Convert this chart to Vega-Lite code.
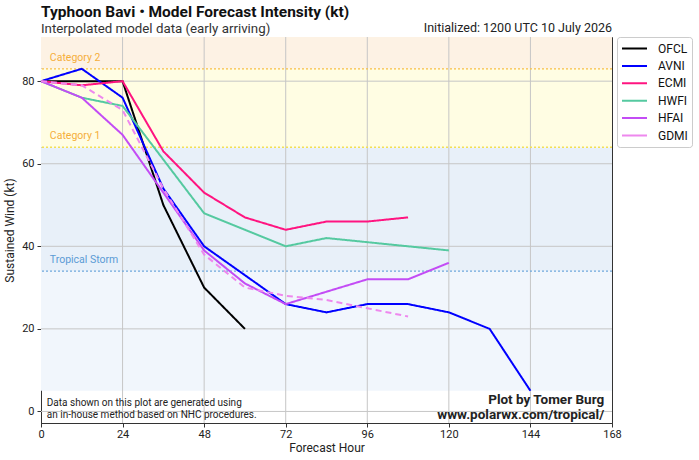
{
  "$schema": "https://vega.github.io/schema/vega-lite/v6.json",
  "width": 571,
  "height": 386,
  "autosize": {"type": "none"},
  "padding": {"left": 41, "top": 37, "right": 87, "bottom": 37},
  "background": "white",
  "config": {
    "font": "Roboto",
    "view": {"stroke": "#333", "strokeWidth": 1},
    "axis": {
      "labelFont": "Roboto",
      "titleFont": "Roboto",
      "labelFontSize": 11,
      "titleFontSize": 12,
      "titleFontWeight": "normal",
      "labelColor": "#222",
      "titleColor": "#222",
      "domainColor": "#333",
      "tickColor": "#333",
      "tickSize": 4,
      "labelFlush": false,
      "grid": false
    },
    "legend": {
      "orient": "none",
      "legendX": 576,
      "legendY": 0,
      "fillColor": "white",
      "strokeColor": "#cccccc",
      "cornerRadius": 3,
      "padding": 4,
      "symbolType": "stroke",
      "symbolSize": 625,
      "symbolStrokeWidth": 2,
      "clipHeight": 15,
      "labelFont": "Roboto",
      "labelFontSize": 12,
      "labelColor": "#111",
      "labelOffset": 10,
      "rowPadding": 2.4
    }
  },
  "title": {
    "text": "Typhoon Bavi • Model Forecast Intensity (kt)",
    "subtitle": "Interpolated model data (early arriving)",
    "anchor": "start",
    "frame": "group",
    "font": "Roboto",
    "fontSize": 15.5,
    "fontWeight": "bold",
    "color": "#111",
    "subtitleFont": "Roboto",
    "subtitleFontSize": 13.3,
    "subtitleColor": "#333",
    "subtitlePadding": 2,
    "offset": -13.5
  },
  "datasets": {
    "zones": [
      {"zone": "TD", "lo": 5, "hi": 34},
      {"zone": "TS", "lo": 34, "hi": 64},
      {"zone": "C1", "lo": 64, "hi": 83},
      {"zone": "C2", "lo": 83, "hi": 90.7}
    ],
    "thresholds": [
      {"zone": "TS", "kt": 34, "label": "Tropical Storm"},
      {"zone": "C1", "kt": 64, "label": "Category 1"},
      {"zone": "C2", "kt": 83, "label": "Category 2"}
    ],
    "hours": [{"h": 24}, {"h": 48}, {"h": 72}, {"h": 96}, {"h": 120}, {"h": 144}],
    "winds": [{"w": 0}, {"w": 20}, {"w": 40}, {"w": 60}, {"w": 80}],
    "tracks": [
      {"model": "OFCL", "hour": 0, "wind": 80},
      {"model": "OFCL", "hour": 12, "wind": 80},
      {"model": "OFCL", "hour": 24, "wind": 80},
      {"model": "OFCL", "hour": 36, "wind": 50},
      {"model": "OFCL", "hour": 48, "wind": 30},
      {"model": "OFCL", "hour": 60, "wind": 20},
      {"model": "AVNI", "hour": 0, "wind": 80},
      {"model": "AVNI", "hour": 12, "wind": 83},
      {"model": "AVNI", "hour": 24, "wind": 76},
      {"model": "AVNI", "hour": 36, "wind": 54},
      {"model": "AVNI", "hour": 48, "wind": 40},
      {"model": "AVNI", "hour": 60, "wind": 33},
      {"model": "AVNI", "hour": 72, "wind": 26},
      {"model": "AVNI", "hour": 84, "wind": 24},
      {"model": "AVNI", "hour": 96, "wind": 26},
      {"model": "AVNI", "hour": 108, "wind": 26},
      {"model": "AVNI", "hour": 120, "wind": 24},
      {"model": "AVNI", "hour": 132, "wind": 20},
      {"model": "AVNI", "hour": 144, "wind": 5},
      {"model": "ECMI", "hour": 0, "wind": 80},
      {"model": "ECMI", "hour": 12, "wind": 79},
      {"model": "ECMI", "hour": 24, "wind": 80},
      {"model": "ECMI", "hour": 36, "wind": 63},
      {"model": "ECMI", "hour": 48, "wind": 53},
      {"model": "ECMI", "hour": 60, "wind": 47},
      {"model": "ECMI", "hour": 72, "wind": 44},
      {"model": "ECMI", "hour": 84, "wind": 46},
      {"model": "ECMI", "hour": 96, "wind": 46},
      {"model": "ECMI", "hour": 108, "wind": 47},
      {"model": "HWFI", "hour": 0, "wind": 80},
      {"model": "HWFI", "hour": 12, "wind": 76},
      {"model": "HWFI", "hour": 24, "wind": 74},
      {"model": "HWFI", "hour": 36, "wind": 61},
      {"model": "HWFI", "hour": 48, "wind": 48},
      {"model": "HWFI", "hour": 60, "wind": 44},
      {"model": "HWFI", "hour": 72, "wind": 40},
      {"model": "HWFI", "hour": 84, "wind": 42},
      {"model": "HWFI", "hour": 96, "wind": 41},
      {"model": "HWFI", "hour": 108, "wind": 40},
      {"model": "HWFI", "hour": 120, "wind": 39},
      {"model": "HFAI", "hour": 0, "wind": 80},
      {"model": "HFAI", "hour": 12, "wind": 76},
      {"model": "HFAI", "hour": 24, "wind": 67},
      {"model": "HFAI", "hour": 36, "wind": 53},
      {"model": "HFAI", "hour": 48, "wind": 39},
      {"model": "HFAI", "hour": 60, "wind": 31},
      {"model": "HFAI", "hour": 72, "wind": 26},
      {"model": "HFAI", "hour": 84, "wind": 29},
      {"model": "HFAI", "hour": 96, "wind": 32},
      {"model": "HFAI", "hour": 108, "wind": 32},
      {"model": "HFAI", "hour": 120, "wind": 36},
      {"model": "GDMI", "hour": 0, "wind": 80},
      {"model": "GDMI", "hour": 12, "wind": 79},
      {"model": "GDMI", "hour": 24, "wind": 73},
      {"model": "GDMI", "hour": 36, "wind": 54},
      {"model": "GDMI", "hour": 48, "wind": 38},
      {"model": "GDMI", "hour": 60, "wind": 30},
      {"model": "GDMI", "hour": 72, "wind": 28},
      {"model": "GDMI", "hour": 84, "wind": 27},
      {"model": "GDMI", "hour": 96, "wind": 25},
      {"model": "GDMI", "hour": 108, "wind": 23}
    ]
  },
  "resolve": {"scale": {"color": "independent"}},
  "layer": [
    {
      "data": {"name": "zones"},
      "mark": {"type": "rect"},
      "encoding": {
        "y": {"field": "lo", "type": "quantitative", "title": "Sustained Wind (kt)", "scale": {"domain": [-2.8, 90.7], "nice": false, "zero": false}},
        "y2": {"field": "hi"},
        "color": {
          "field": "zone", "type": "nominal",
          "scale": {"domain": ["TD", "TS", "C1", "C2"], "range": ["#f1f6fc", "#e8f0f9", "#fffde3", "#fdf2e4"]},
          "legend": null
        }
      }
    },
    {
      "data": {"name": "hours"},
      "mark": {"type": "rule", "color": "#c6c6c6", "strokeWidth": 1},
      "encoding": {
        "x": {"field": "h", "type": "quantitative", "title": "Forecast Hour", "scale": {"domain": [0, 168], "nice": false}}
      }
    },
    {
      "data": {"name": "winds"},
      "mark": {"type": "rule", "color": "#c6c6c6", "strokeWidth": 1},
      "encoding": {
        "y": {"field": "w", "type": "quantitative", "title": "Sustained Wind (kt)"}
      }
    },
    {
      "data": {"name": "thresholds"},
      "mark": {"type": "rule", "strokeDash": [2, 2], "strokeWidth": 1.3},
      "encoding": {
        "y": {"field": "kt", "type": "quantitative", "title": "Sustained Wind (kt)"},
        "color": {
          "field": "zone", "type": "nominal",
          "scale": {"domain": ["TS", "C1", "C2"], "range": ["#6fa8dc", "#f3df55", "#f8bf45"]},
          "legend": null
        }
      }
    },
    {
      "data": {"name": "thresholds"},
      "mark": {"type": "text", "align": "left", "baseline": "middle", "dy": -11, "fontSize": 10.5, "font": "Roboto"},
      "encoding": {
        "x": {"datum": 2.6, "type": "quantitative", "title": "Forecast Hour"},
        "y": {"field": "kt", "type": "quantitative", "title": "Sustained Wind (kt)"},
        "text": {"field": "label"},
        "color": {
          "field": "zone", "type": "nominal",
          "scale": {"domain": ["TS", "C1", "C2"], "range": ["#5b9bd5", "#f5ae3a", "#f5ae3a"]},
          "legend": null
        }
      }
    },
    {
      "data": {"name": "tracks"},
      "mark": {"type": "line", "strokeWidth": 2},
      "encoding": {
        "x": {
          "field": "hour", "type": "quantitative", "title": "Forecast Hour",
          "axis": {"values": [0, 24, 48, 72, 96, 120, 144, 168], "titlePadding": 3, "labelPadding": 1}
        },
        "y": {
          "field": "wind", "type": "quantitative", "title": "Sustained Wind (kt)",
          "axis": {"values": [0, 20, 40, 60, 80], "titlePadding": 5, "labelPadding": 3}
        },
        "color": {
          "field": "model", "type": "nominal",
          "scale": {
            "domain": ["OFCL", "AVNI", "ECMI", "HWFI", "HFAI", "GDMI"],
            "range": ["#000000", "#0000ff", "#ff1480", "#55c9a0", "#c34cf5", "#ee88ee"]
          },
          "legend": {"title": null}
        },
        "strokeDash": {
          "field": "model", "type": "nominal",
          "scale": {
            "domain": ["OFCL", "AVNI", "ECMI", "HWFI", "HFAI", "GDMI"],
            "range": [[1, 0], [1, 0], [1, 0], [1, 0], [1, 0], [6, 4]]
          },
          "legend": {"title": null}
        }
      }
    },
    {
      "data": {"values": [{"note": "Initialized: 1200 UTC 10 July 2026"}]},
      "mark": {"type": "text", "align": "right", "baseline": "middle", "fontSize": 12.5, "font": "Roboto", "color": "#222"},
      "encoding": {
        "x": {"datum": 168, "type": "quantitative", "title": "Forecast Hour"},
        "y": {"datum": 92.9, "type": "quantitative", "title": "Sustained Wind (kt)"},
        "text": {"field": "note"}
      }
    },
    {
      "data": {"values": [{"note": "Data shown on this plot are generated using\nan in-house method based on NHC procedures."}]},
      "mark": {"type": "text", "align": "left", "baseline": "middle", "fontSize": 10, "font": "Roboto", "color": "#222", "lineHeight": 12.5, "lineBreak": "\n"},
      "encoding": {
        "x": {"datum": 1.7, "type": "quantitative", "title": "Forecast Hour"},
        "y": {"datum": 2.1, "type": "quantitative", "title": "Sustained Wind (kt)"},
        "text": {"field": "note"}
      }
    },
    {
      "data": {"values": [{"note": "Plot by Tomer Burg\nwww.polarwx.com/tropical/"}]},
      "mark": {"type": "text", "align": "right", "baseline": "middle", "fontSize": 13.5, "fontWeight": "bold", "font": "Roboto", "color": "#222", "lineHeight": 15, "lineBreak": "\n"},
      "encoding": {
        "x": {"datum": 165.7, "type": "quantitative", "title": "Forecast Hour"},
        "y": {"datum": 2.7, "type": "quantitative", "title": "Sustained Wind (kt)"},
        "text": {"field": "note"}
      }
    }
  ]
}
